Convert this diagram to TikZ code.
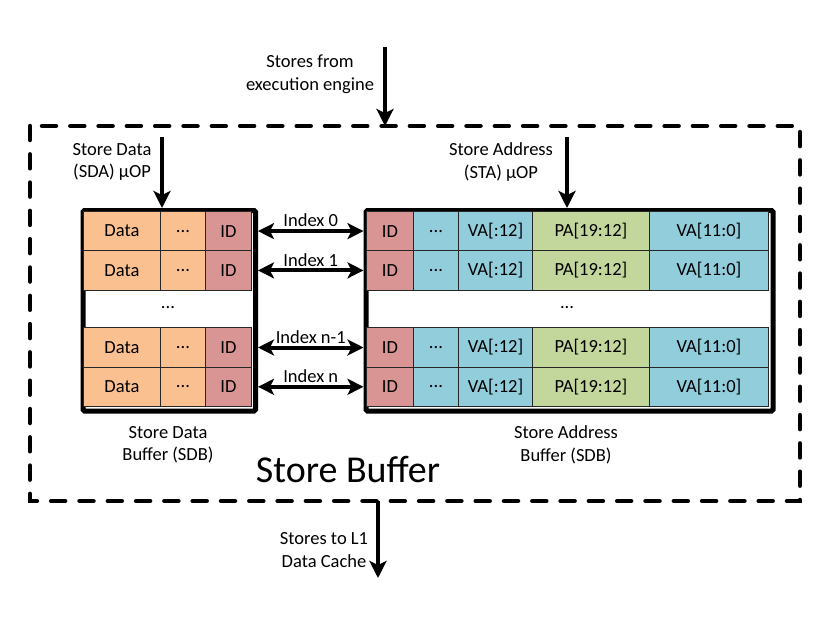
\documentclass[tikz,border=0pt]{standalone}
\usepackage{fontspec}
\setmainfont{Carlito}
\usepackage{tikz}
\usetikzlibrary{arrows.meta,positioning}
\definecolor{sbdata}{HTML}{FAC090}
\definecolor{sbid}{HTML}{D99594}
\definecolor{sbva}{HTML}{92CDDC}
\definecolor{sbpa}{HTML}{C3D69B}

\begin{document}
\begin{tikzpicture}[x=1pt,y=-1pt,
  cell/.style={draw=black!85,line width=0.9pt,minimum height=39.3pt,inner sep=0pt,anchor=north west,font=\fontsize{18.5}{22}\selectfont},
  bufbox/.style={draw=black,line width=5pt,rounded corners=1.5pt,inner sep=0pt},
  bigarrow/.style={-{Stealth[length=17pt,width=17pt,inset=4pt]},line width=4pt},
  dblarrow/.style={{Stealth[length=16pt,width=16pt,inset=4pt]}-{Stealth[length=16pt,width=16pt,inset=4pt]},line width=4pt},
  label/.style={font=\fontsize{18.5}{22.5}\selectfont,align=center,inner sep=1pt}
]
\useasboundingbox (0,0) rectangle (830,632);
% store buffer outline
\draw[line width=4.5pt,dash pattern=on 14pt off 14.3pt,line cap=round] (30,126) rectangle (800,501);
\coordinate (sbtop) at (385,126);
\coordinate (sbbot) at (378,501);
% the two buffers
\node[bufbox,minimum width=172.5pt,minimum height=200.5pt,anchor=north west] (sdb) at (80.5,208) {};
\node[bufbox,minimum width=407pt,minimum height=200.5pt,anchor=north west] (sab) at (363.5,208) {};
\foreach \y/\n in {211/a,250.3/b,327.4/c,366.7/d} {
  \node[cell,fill=sbdata,minimum width=77pt] (data\n) at (83,\y) {Data};
  \node[cell,fill=sbdata,minimum width=45pt] (ldots\n) at (160,\y) {...};
  \node[cell,fill=sbid,minimum width=46pt] (lid\n) at (205,\y) {ID};
  \node[cell,fill=sbid,minimum width=47pt] (rid\n) at (366,\y) {ID};
  \node[cell,fill=sbva,minimum width=45pt] (rdots\n) at (413,\y) {...};
  \node[cell,fill=sbva,minimum width=74pt] (vahi\n) at (458,\y) {VA[:12]};
  \node[cell,fill=sbpa,minimum width=117pt] (pa\n) at (532,\y) {PA[19:12]};
  \node[cell,fill=sbva,minimum width=119pt] (valo\n) at (649,\y) {VA[11:0]};
}
\node[label] (lgap) at (168,308) {...};
\node[label] (rgap) at (567,308) {...};
% index links
\foreach \n/\t in {a/Index 0,b/Index 1,c/Index n-1,d/Index n}
  \draw[dblarrow] (sdb.east |- lid\n) -- node[label,above=1pt]{\t} (sab.west |- rid\n);
% inputs and output
\node[label] (engine) at (310,74) {Stores from\\execution engine};
\coordinate (enginein) at (385,47);
\draw[bigarrow] (enginein) -- (sbtop);
\node[label] (sda) at (112,162) {Store Data\\(SDA) μOP};
\coordinate (sdain) at (162,137);
\draw[bigarrow] (sdain) -- (sdain |- sdb.north);
\node[label] (sta) at (501,162) {Store Address\\(STA) μOP};
\coordinate (stain) at (567,137);
\draw[bigarrow] (stain) -- (stain |- sab.north);
\coordinate (l1out) at (378,578);
\draw[bigarrow] (sbbot) -- (l1out);
\node[label] (l1) at (324,550) {Stores to L1\\Data Cache};
% captions
\node[label] (sdbname) at (168,445) {Store Data\\Buffer (SDB)};
\node[label] (sabname) at (566,445) {Store Address\\Buffer (SDB)};
\node[font=\fontsize{38}{42}\selectfont] (sbname) at (348,470) {Store Buffer};
\end{tikzpicture}
\end{document}
